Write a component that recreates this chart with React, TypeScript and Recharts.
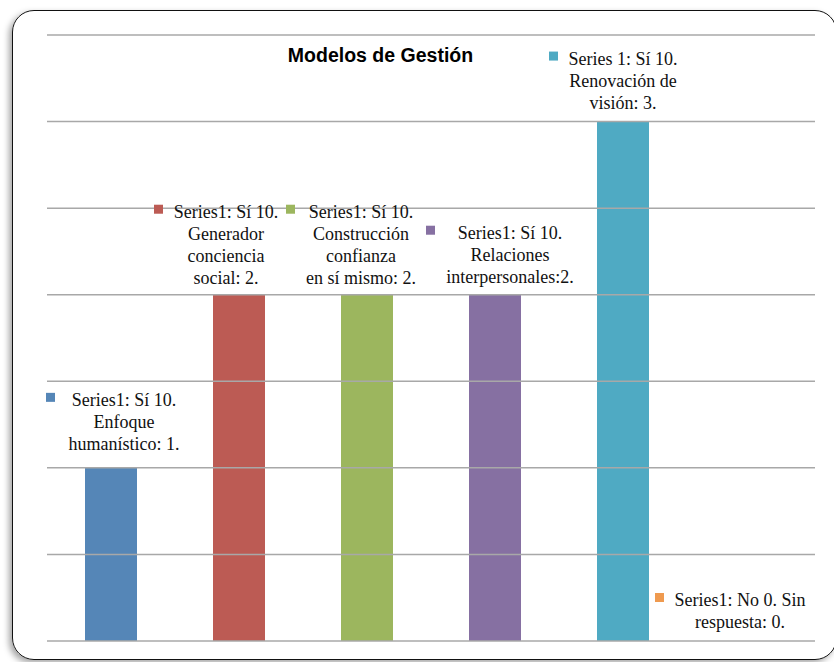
import { BarChart, Bar, XAxis, YAxis, Cell, ReferenceLine, ReferenceDot } from "recharts";

const categories = [
  "Enfoque humanístico",
  "Generador conciencia social",
  "Construcción confianza en sí mismo",
  "Relaciones interpersonales",
  "Renovación de visión",
  "Sin respuesta",
];
const values = [1, 2, 2, 2, 3, 0];
const labelLines = [
  ["Series1: Sí 10.", "Enfoque", "humanístico: 1."],
  ["Series1: Sí 10.", "Generador", "conciencia", "social: 2."],
  ["Series1: Sí 10.", "Construcción", "confianza", "en sí mismo: 2."],
  ["Series1: Sí 10.", "Relaciones", "interpersonales:2."],
  ["Series 1: Sí 10.", "Renovación de", "visión: 3."],
  ["Series1: No 0. Sin", "respuesta: 0."],
];
const yTicks = [0, 0.5, 1, 1.5, 2, 2.5, 3, 3.5];

const colors = ["#5586B7", "#BC5B54", "#9CB65E", "#8670A2", "#4FAAC3", "#EF9A4F"];

// label nudges as placed by hand in the original: text center vs bar center,
// key square left vs text center, last baseline gap above bar top
const labelLayout = [
  { dx: 13, sq: -78, gap: 18 },
  { dx: -13, sq: -72, gap: 11 },
  { dx: -6, sq: -75, gap: 11 },
  { dx: 15, sq: -84, gap: 12 },
  { dx: 0, sq: -74, gap: 13 },
  { dx: -11, sq: -85, gap: 13 },
];

const data = categories.map((name, i) => ({ name, value: values[i] }));

const LINE_H = 22;

function makeLabel(i: number) {
  return (props: any) => {
    const lines = labelLines[i];
    const lay = labelLayout[i];
    const cx = props.cx + lay.dx;
    const lastBase = props.cy - lay.gap;
    const firstBase = lastBase - (lines.length - 1) * LINE_H;
    return (
      <g>
        <rect x={cx + lay.sq} y={firstBase - 13} width={9} height={9} fill={colors[i]} />
        <text
          textAnchor="middle"
          fontFamily="'Liberation Serif', 'Times New Roman', serif"
          fontSize={18}
          fill="#111"
        >
          {lines.map((line, k) => (
            <tspan key={k} x={cx} y={firstBase + k * LINE_H}>
              {line}
            </tspan>
          ))}
        </text>
      </g>
    );
  };
}

export default function App() {
  return (
    <div
      style={{
        position: "absolute",
        left: 0,
        top: 0,
        width: 834,
        height: 662,
        overflow: "hidden",
        background: "#fff",
      }}
    >
      <div
        style={{
          position: "absolute",
          left: 12,
          top: 10,
          width: 825,
          height: 650,
          border: "1.5px solid #111",
          borderRadius: 22,
          boxShadow: "-3px 3px 6px rgba(0,0,0,0.35)",
          boxSizing: "border-box",
        }}
      />
      <div style={{ position: "absolute", left: 0, top: 0 }}>
        <BarChart
          width={834}
          height={662}
          data={data}
          margin={{ top: 35, right: 19, bottom: 21, left: 47 }}
        >
          <XAxis dataKey="name" hide height={0} />
          <YAxis hide width={0} domain={[0, 3.5]} ticks={yTicks} />
          {yTicks.map((t) => (
            <ReferenceLine key={t} y={t} stroke="#A8A8A8" strokeWidth={1.5} />
          ))}
          <Bar dataKey="value" barSize={52} isAnimationActive={false}>
            {data.map((d, i) => (
              <Cell key={d.name} fill={colors[i]} />
            ))}
          </Bar>
          {data.map((d, i) => (
            <ReferenceDot
              key={d.name}
              x={d.name}
              y={d.value}
              r={0}
              ifOverflow="visible"
              shape={makeLabel(i)}
            />
          ))}
          <text
            x={380.5}
            y={62}
            textAnchor="middle"
            fontFamily="'Liberation Sans', Arial, sans-serif"
            fontWeight="bold"
            fontSize={19.5}
            fill="#000"
          >
            Modelos de Gestión
          </text>
        </BarChart>
      </div>
    </div>
  );
}
